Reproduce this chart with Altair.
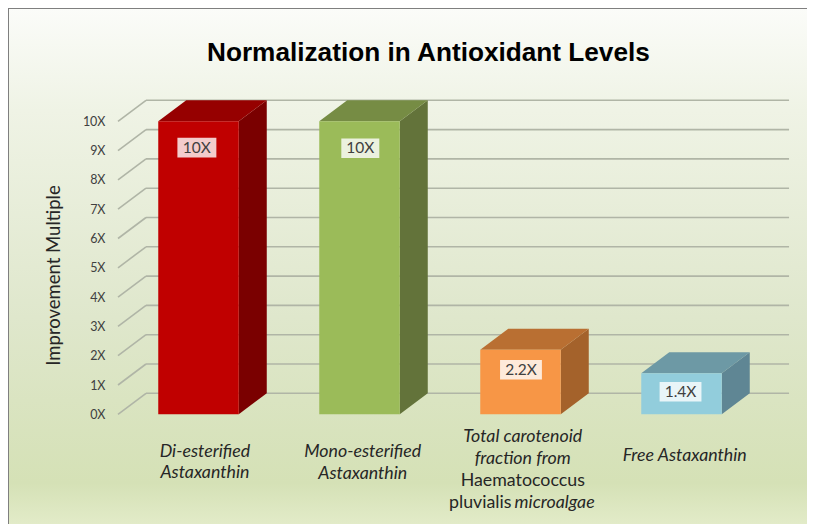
import altair as alt
import pandas as pd

# ---- chart content ----
categories = ["Di-esterified Astaxanthin", "Mono-esterified Astaxanthin",
              "Total carotenoid fraction from Haematococcus pluvialis microalgae",
              "Free Astaxanthin"]
values = [10.0, 10.0, 2.2, 1.4]
value_labels = ["10X", "10X", "2.2X", "1.4X"]
front_colors = ["#c00000", "#9bbb59", "#f79646", "#92cddc"]
top_colors = ["#960000", "#768c44", "#b96f32", "#6d99a5"]
side_colors = ["#7a0000", "#63733a", "#a4622b", "#5f8694"]
ticks = list(range(11))

# label placement, in axis units
label_levels = [9.1, 9.08, 1.52, 0.77]
label_shift = [-0.01, 0.005, 0.003, -0.006]
label_widths = [0.242, 0.236, 0.26, 0.26]
label_height = 0.67
cat_lines = [
    (0.04, -1.27, "Di-esterified", "italic"),
    (0.04, -2.02, "Astaxanthin", "italic"),
    (1.02, -1.29, "Mono-esterified", "italic"),
    (1.02, -2.04, "Astaxanthin", "italic"),
    (2.014, -0.78, "Total carotenoid", "italic"),
    (2.014, -1.53, "fraction from", "italic"),
    (2.014, -2.28, "Haematococcus", "normal"),
    (1.75, -3.03, "pluvialis", "normal"),
    (2.212, -3.03, "microalgae", "italic"),
    (3.02, -1.42, "Free Astaxanthin", "italic"),
]

# ---- layout ----
W, H = 799, 516
PX_CAT = 161.0
PX_VAL = 29.3
X0 = 110.0           # chart px of category 0 band start
Y0 = 406.3           # chart px of value 0
x_dom = [-X0 / PX_CAT, (W - X0) / PX_CAT]
y_dom = [(Y0 - H) / PX_VAL, Y0 / PX_VAL]
xs = alt.Scale(domain=x_dom, nice=False, zero=False)
ys = alt.Scale(domain=y_dom, nice=False, zero=False)
DX, DY = 0.174, 0.717
HALF = 0.25           # half bar width, category units
CENTER = 0.5          # bar centre in category band
X_END = 4.168         # end of the back wall lines

y_axis = alt.Axis(
    values=ticks, labelExpr="datum.value + 'X'", ticks=False, domain=False, grid=False,
    offset=-97, labelPadding=0, labelFont="Lato", labelFontSize=12.5, labelColor="#404040",
    title="Improvement Multiple",
    titleFont="Lato", titleFontSize=18.5, titleFontWeight="normal", titleColor="#262626",
    titleX=-42, titleY=267, titleAngle=270, zindex=1, labelFlush=False, labelOverlap=False,
)


def X(f):
    return alt.X(f, type="quantitative", scale=xs, axis=None, title=None, stack=None)


def Y(f):
    return alt.Y(f, type="quantitative", scale=ys, axis=y_axis, stack=None)


# background
bg = alt.Chart(pd.DataFrame({"a": [x_dom[0]], "b": [x_dom[1]], "c": [y_dom[0]], "d": [y_dom[1]]})).mark_rect(
    color=alt.Gradient(gradient="linear", x1=0, x2=0, y1=0, y2=1, stops=[
        alt.GradientStop(offset=0, color="#fbfcf9"),
        alt.GradientStop(offset=0.2, color="#eff3e5"),
        alt.GradientStop(offset=0.6, color="#dfe7cc"),
        alt.GradientStop(offset=0.92, color="#d5e1b6"),
        alt.GradientStop(offset=1, color="#e2ebc8"),
    ]),
).encode(x=X("a"), x2="b", y=Y("c"), y2="d")

# frame: the reference shows only the top and left edges
frame_df = pd.DataFrame({"a": [x_dom[0]], "b": [x_dom[1]], "c": [y_dom[0]], "d": [y_dom[1]]})
frame_top = alt.Chart(frame_df).mark_rule(color="#7f7f7f", strokeWidth=2).encode(x=X("a"), x2="b", y=Y("d"))
frame_left = alt.Chart(frame_df).mark_rule(color="#7f7f7f", strokeWidth=2).encode(x=X("a"), y=Y("c"), y2="d")

# wall lines
grid = pd.DataFrame({"v": ticks})
grid["vb"] = grid["v"] + DY
grid["xf"] = 0.0
grid["xb"] = DX
grid["xe"] = X_END
GRID = "#b0b5a6"
wall = alt.Chart(grid).mark_rule(color=GRID, strokeWidth=1.6).encode(
    x=X("xb"), x2="xe", y=Y("vb"))
floor = alt.Chart(grid).mark_rule(color=GRID, strokeWidth=1.6).encode(
    x=X("xf"), x2="xb", y=Y("v"), y2="vb")

# bars
rows, side_rows, top_rows = [], [], []
for i, (c, v) in enumerate(zip(categories, values)):
    L, R = i + CENTER - HALF, i + CENTER + HALF
    rows.append(dict(cat=c, l=L, r=R, v=v, z=0.0, col=front_colors[i]))
    side_rows += [dict(cat=c, x=R, t=v, b=0.0, col=side_colors[i]),
                  dict(cat=c, x=R + DX, t=v + DY, b=DY, col=side_colors[i])]
    top_rows += [dict(cat=c, y=v, a=L, b=R, col=top_colors[i]),
                 dict(cat=c, y=v + DY, a=L + DX, b=R + DX, col=top_colors[i])]

front = alt.Chart(pd.DataFrame(rows)).mark_rect().encode(
    x=X("l"), x2="r", y=Y("z"), y2="v",
    color=alt.Color("col:N", scale=None, legend=None))
side = alt.Chart(pd.DataFrame(side_rows)).mark_area().encode(
    x=X("x"), y=Y("t"), y2="b",
    detail="cat:N",
    color=alt.Color("col:N", scale=None, legend=None))
top = alt.Chart(pd.DataFrame(top_rows)).mark_area(orient="horizontal").encode(
    y=Y("y"), x=X("a"), x2="b",
    detail="cat:N",
    color=alt.Color("col:N", scale=None, legend=None))

# value labels
lab = pd.DataFrame({
    "x": [i + CENTER + s for i, s in enumerate(label_shift)],
    "y": label_levels, "t": value_labels, "w": label_widths})
lab["x1"] = lab["x"] - lab["w"] / 2
lab["x2"] = lab["x"] + lab["w"] / 2
lab["y1"] = lab["y"] - label_height / 2
lab["y2"] = lab["y"] + label_height / 2
boxes = alt.Chart(lab).mark_rect(color="#ffffff", opacity=0.8).encode(
    x=X("x1"), x2="x2", y=Y("y1"), y2="y2")
texts = alt.Chart(lab).mark_text(font="Lato", fontSize=15.5, color="#404040").encode(
    x=X("x"), y=Y("y"), text="t:N")

# category labels
cl = pd.DataFrame(cat_lines, columns=["i", "y", "t", "s"])
cl["x"] = cl["i"] + CENTER
cats_it = alt.Chart(cl[cl.s == "italic"]).mark_text(
    font="Lato", fontSize=17.8, fontStyle="italic", color="#262626").encode(
    x=X("x"), y=Y("y"), text="t:N")
cats_up = alt.Chart(cl[cl.s == "normal"]).mark_text(
    font="Lato", fontSize=17.8, color="#262626").encode(
    x=X("x"), y=Y("y"), text="t:N")

chart = alt.layer(bg, frame_top, frame_left, wall, floor, side, top, front, boxes, texts, cats_it, cats_up).properties(
    width=W, height=H, padding=0,
    autosize=alt.AutoSizeParams(type="none"),
    title=alt.TitleParams("Normalization in Antioxidant Levels", font="Liberation Sans", fontSize=26.2,
                          fontWeight="bold", color="#000000", anchor="start", frame="group",
                          offset=0, dy=59, dx=199),
).configure_view(stroke=None)

chart.save("out.html", embed_options={"renderer": "svg", "actions": False})
